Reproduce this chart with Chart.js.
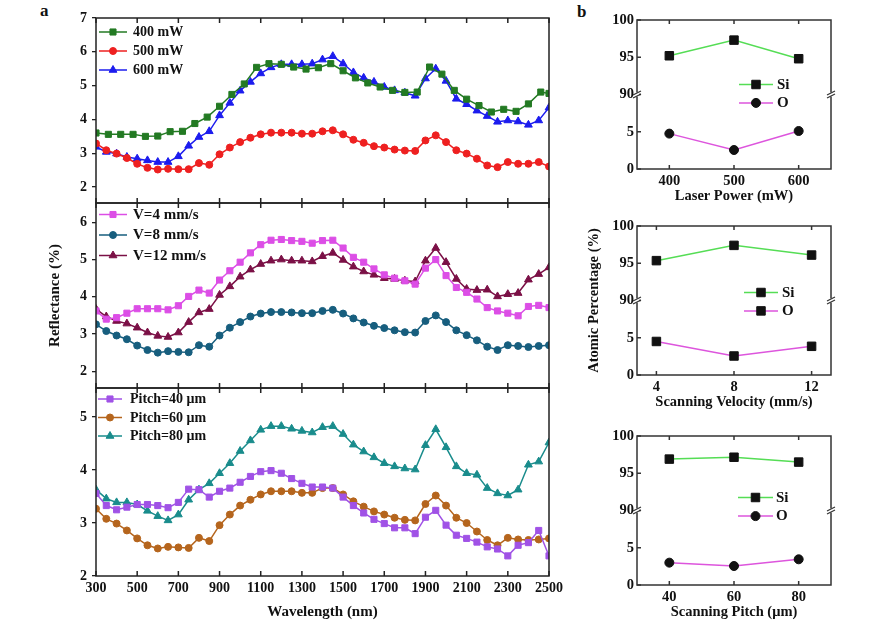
<!DOCTYPE html>
<html><head><meta charset="utf-8">
<script src="https://cdn.jsdelivr.net/npm/chart.js@4/dist/chart.umd.min.js"></script>
<style>
html,body{margin:0;padding:0;background:#fff;width:876px;height:634px;overflow:hidden;position:relative;}
canvas{position:absolute;}
.lbl{position:absolute;font:bold 17px "Liberation Serif",serif;color:#111;line-height:20px;}
</style></head><body>
<div class="lbl" style="left:40px;top:1px">a</div>
<div class="lbl" style="left:577px;top:2px">b</div>
<canvas id="a1" width="580" height="219" style="left:0;top:0"></canvas>
<canvas id="a2" width="580" height="217" style="left:0;top:187px"></canvas>
<canvas id="a3" width="580" height="262" style="left:0;top:372px"></canvas>
<canvas id="b1" width="316" height="210" style="left:560px;top:0"></canvas>
<canvas id="b2" width="316" height="210" style="left:560px;top:206px"></canvas>
<canvas id="b3" width="316" height="210" style="left:560px;top:416px"></canvas>
<script>
// ---------------- data ----------------
const wl50 = [300,350,400,450,500,550,600,650,700,750,800,850,900,950,1000,1050,1100,1150,1200,1250,1300,1350,1400,1450,1500,1550,1600,1650,1700,1750,1800,1850,1900,1950,2000,2050,2100,2150,2200,2250,2300,2350,2400,2450,2500];
const wl60 = [300,360,420,480,540,600,660,720,780,840,900,960,1020,1080,1140,1200,1260,1320,1380,1440,1500,1560,1620,1680,1740,1800,1860,1920,1980,2040,2100,2160,2220,2280,2340,2400,2460,2500];

const p400 = [3.60,3.56,3.56,3.56,3.50,3.51,3.64,3.65,3.88,4.07,4.39,4.74,5.05,5.54,5.65,5.63,5.55,5.49,5.53,5.65,5.44,5.23,5.08,4.96,4.86,4.80,4.81,5.55,5.34,4.86,4.60,4.41,4.22,4.30,4.24,4.46,4.81,4.77];
const p500 = [3.29,3.09,2.99,2.86,2.69,2.57,2.52,2.54,2.53,2.53,2.71,2.66,2.97,3.17,3.33,3.46,3.56,3.61,3.61,3.61,3.58,3.58,3.65,3.68,3.56,3.40,3.31,3.21,3.17,3.11,3.08,3.07,3.38,3.53,3.33,3.09,2.99,2.84,2.64,2.59,2.74,2.69,2.69,2.74,2.61];
const p600 = [3.19,3.04,2.99,2.89,2.84,2.79,2.74,2.74,2.91,3.22,3.48,3.65,4.12,4.49,4.85,5.11,5.36,5.54,5.63,5.63,5.63,5.65,5.77,5.87,5.65,5.39,5.23,5.11,4.96,4.86,4.79,4.70,5.21,5.50,5.14,4.61,4.45,4.26,4.10,3.93,3.97,3.94,3.84,3.97,4.35];

const v4 = [3.62,3.40,3.44,3.56,3.68,3.68,3.68,3.65,3.76,4.01,4.18,4.10,4.45,4.70,4.93,5.18,5.40,5.52,5.54,5.51,5.49,5.44,5.51,5.52,5.31,5.06,4.93,4.75,4.59,4.50,4.43,4.34,4.77,5.00,4.57,4.25,4.12,3.94,3.71,3.62,3.56,3.49,3.74,3.77,3.71];
const v8 = [3.26,3.08,2.96,2.86,2.69,2.57,2.50,2.54,2.52,2.51,2.70,2.66,2.96,3.17,3.32,3.47,3.55,3.59,3.59,3.58,3.56,3.56,3.62,3.65,3.55,3.42,3.31,3.22,3.16,3.10,3.05,3.04,3.35,3.50,3.32,3.10,2.97,2.83,2.66,2.57,2.70,2.68,2.65,2.68,2.70];
const v12 = [3.67,3.47,3.35,3.28,3.17,3.04,2.95,2.92,3.04,3.32,3.58,3.67,4.05,4.28,4.54,4.73,4.88,4.97,5.00,4.97,4.97,4.95,5.09,5.18,4.99,4.81,4.68,4.59,4.50,4.48,4.43,4.41,4.97,5.31,4.93,4.48,4.21,4.18,4.19,4.01,4.07,4.10,4.46,4.61,4.79];

const pitch40 = [3.56,3.33,3.25,3.30,3.35,3.35,3.33,3.29,3.39,3.64,3.63,3.49,3.60,3.66,3.77,3.88,3.97,3.99,3.94,3.84,3.75,3.68,3.68,3.66,3.49,3.33,3.19,3.07,2.99,2.91,2.91,2.80,3.11,3.24,2.96,2.77,2.71,2.64,2.55,2.51,2.38,2.58,2.63,2.86,2.38];
const pitch60 = [3.27,3.08,2.99,2.86,2.71,2.58,2.52,2.55,2.54,2.53,2.72,2.66,2.96,3.16,3.33,3.44,3.54,3.60,3.60,3.60,3.57,3.57,3.66,3.66,3.54,3.41,3.31,3.22,3.16,3.10,3.06,3.05,3.36,3.52,3.33,3.10,3.00,2.84,2.68,2.58,2.72,2.69,2.68,2.69,2.71];
const pitch80 = [3.63,3.46,3.39,3.39,3.35,3.23,3.13,3.05,3.16,3.44,3.63,3.75,3.94,4.13,4.36,4.56,4.76,4.83,4.83,4.78,4.74,4.71,4.81,4.83,4.68,4.48,4.35,4.24,4.13,4.07,4.03,4.01,4.47,4.77,4.43,4.07,3.94,3.91,3.66,3.56,3.52,3.63,4.10,4.16,4.52];

const wlTicks = [300,500,700,900,1100,1300,1500,1700,1900,2100,2300,2500];
const yTicksA1 = [2,3,4,5,6,7];
const yTicksA2 = [2,3,4,5,6];
const yTicksA3 = [2,3,4,5];

const laserPower = [400,500,600];
const siLaser = [95.2,97.3,94.8];
const oLaser = [4.75,2.55,5.1];
const scanVel = [4,8,12];
const siVel = [95.35,97.4,96.1];
const oVel = [4.5,2.55,3.85];
const scanPitch = [40,60,80];
const siPitch = [96.9,97.15,96.5];
const oPitch = [3.0,2.55,3.45];
const bYTicks = [0,5,90,95,100];

// ---------------- helpers ----------------
const FONT = "'Liberation Serif','Times New Roman',serif";
const INK = '#111';

// linear scale with a broken range (10..90 removed)
const BREAK_LO = 10, BREAK_HI = 90;
class BrokenScale extends Chart.LinearScale {
  getPixelForValue(value) {
    if (value === null || value === undefined) return NaN;
    const v = value >= BREAK_HI ? value - (BREAK_HI - BREAK_LO) : value;
    return super.getPixelForValue(v);
  }
}
BrokenScale.id = 'broken';
BrokenScale.defaults = {};
Chart.register(BrokenScale);

function drawMarker(ctx, style, x, y, r, color) {
  ctx.fillStyle = color; ctx.strokeStyle = color; ctx.lineWidth = 1;
  ctx.beginPath();
  if (style === 'rect') {
    const s = r * Math.SQRT1_2;
    ctx.rect(x - s, y - s, 2 * s, 2 * s);
  } else if (style === 'triangle') {
    for (let k = 0; k < 3; k++) {
      const ang = k * 2 * Math.PI / 3;
      const px = x + Math.sin(ang) * r, py = y - Math.cos(ang) * r;
      if (k === 0) ctx.moveTo(px, py); else ctx.lineTo(px, py);
    }
    ctx.closePath();
  } else {
    ctx.arc(x, y, r, 0, Math.PI * 2);
  }
  ctx.fill(); ctx.stroke();
}

const framePlugin = {
  id: 'frame',
  afterDraw(chart, args, o) {
    const {ctx, chartArea: a, scales} = chart;
    ctx.save();
    ctx.strokeStyle = o.color || '#222';
    ctx.lineWidth = o.width || 1.5;
    const t = o.tick || 5;
    ctx.beginPath();
    (o.xTicks || []).forEach(v => {
      const px = scales.x.getPixelForValue(v);
      ctx.moveTo(px, a.top); ctx.lineTo(px, a.top + t);
      ctx.moveTo(px, a.bottom); ctx.lineTo(px, a.bottom - t);
    });
    (o.yTicks || []).forEach(v => {
      const py = scales.y.getPixelForValue(v);
      ctx.moveTo(a.left, py); ctx.lineTo(a.left + t, py);
    });
    ctx.stroke();
    ctx.strokeRect(a.left, a.top, a.right - a.left, a.bottom - a.top);
    if (o.breakAt !== undefined && o.breakAt !== null) {
      const py = scales.y.getPixelForValue(o.breakAt);
      [a.left, a.right].forEach(x => {
        ctx.fillStyle = '#fff';
        ctx.fillRect(x - 2, py - 2, 4, 4);
        ctx.lineWidth = 1.2;
        ctx.beginPath();
        ctx.moveTo(x - 4, py + 0.5); ctx.lineTo(x + 4, py - 3.5);
        ctx.moveTo(x - 4, py + 3.5); ctx.lineTo(x + 4, py - 0.5);
        ctx.stroke();
      });
    }
    ctx.restore();
  }
};

const legendPlugin = {
  id: 'inLegend',
  afterDraw(chart, args, o) {
    if (!o || o.x0 === undefined) return;
    const {ctx, chartArea: a} = chart;
    ctx.save();
    chart.data.datasets.forEach((d, i) => {
      const y = a.top + o.y0 + i * o.dy;
      const x0 = a.left + o.x0, x1 = a.left + o.x1;
      ctx.strokeStyle = d.borderColor; ctx.lineWidth = d.borderWidth;
      ctx.beginPath(); ctx.moveTo(x0, y); ctx.lineTo(x1, y); ctx.stroke();
      drawMarker(ctx, d.pointStyle, (x0 + x1) / 2, y, d.pointRadius, d.pointBackgroundColor);
      ctx.fillStyle = INK;
      ctx.font = 'bold ' + o.size + 'px ' + FONT;
      ctx.textBaseline = 'middle'; ctx.textAlign = 'left';
      ctx.fillText(d.label, a.left + o.tx, y + 0.5);
    });
    ctx.restore();
  }
};

function pts(xs, ys) { return ys.map((y, i) => ({x: xs[i], y: y})); }
function lineSet(label, xs, ys, color, style, r) {
  return {label, data: pts(xs, ys), borderColor: color, backgroundColor: color,
    pointBackgroundColor: color, pointBorderColor: color, pointStyle: style,
    pointRadius: r, pointBorderWidth: 1, borderWidth: 1.5, tension: 0, fill: false};
}
function font(size) { return {family: FONT, size: size, weight: 'bold'}; }

function leftChart(id, datasets, yMin, yMax, yTicks, o) {
  return new Chart(document.getElementById(id), {
    type: 'line',
    data: {datasets},
    options: {
      responsive: false, animation: false, devicePixelRatio: 1, events: [],
      layout: {padding: {left: 0, right: 31, top: o.pt, bottom: o.pb}},
      plugins: {
        legend: {display: false}, tooltip: {enabled: false},
        frame: {xTicks: wlTicks, tick: 5, width: 1.5, color: '#222'},
        inLegend: o.legend
      },
      scales: {
        x: {
          type: 'linear', min: 300, max: 2500, display: !!o.showX,
          afterBuildTicks: s => { s.ticks = wlTicks.map(v => ({value: v})); },
          ticks: {font: font(14), color: INK, padding: 4, maxRotation: 0, autoSkip: false, callback: v => String(v)},
          grid: {display: false, drawTicks: false}, border: {display: false},
          title: {display: !!o.showX, text: 'Wavelength (nm)', font: font(15), color: INK, padding: {top: 0, bottom: 0}},
          afterFit: s => { s.height = o.xH || 0; }
        },
        y: {
          type: 'linear', min: yMin, max: yMax,
          afterBuildTicks: s => { s.ticks = yTicks.map(v => ({value: v})); },
          ticks: {font: font(14), color: INK, padding: 5, autoSkip: false, callback: v => String(v)},
          grid: {display: true, drawOnChartArea: false, drawTicks: true, tickLength: 4, color: '#222', lineWidth: 1.3},
          border: {display: false},
          title: {display: !!o.yTitle, text: 'Reflectance (%)', font: font(15), color: INK, padding: {top: 46, bottom: 0}},
          afterFit: s => { s.width = 96; }
        }
      }
    },
    plugins: [framePlugin, legendPlugin]
  });
}

leftChart('a1', [
  lineSet('400 mW', wl60, p400, '#237a23', 'rect', 4.3),
  lineSet('500 mW', wl50, p500, '#ee2020', 'circle', 3.5),
  lineSet('600 mW', wl50, p600, '#1c1cee', 'triangle', 4.5)
], 1.53, 7, yTicksA1, {pt: 18, pb: 16, legend: {x0: 3, x1: 31, tx: 37, y0: 14, dy: 19, size: 14}});

leftChart('a2', [
  lineSet('V=4 mm/s', wl50, v4, '#dc4ee6', 'rect', 4.3),
  lineSet('V=8 mm/s', wl50, v8, '#175e7e', 'circle', 3.5),
  lineSet('V=12 mm/s', wl50, v12, '#7b1046', 'triangle', 4.5)
], 1.55, 6.52, yTicksA2, {pt: 16, pb: 16, yTitle: true, legend: {x0: 3, x1: 31, tx: 37, y0: 11.5, dy: 20.5, size: 15}});

leftChart('a3', [
  lineSet('Pitch=40 μm', wl50, pitch40, '#a052e6', 'rect', 4.3),
  lineSet('Pitch=60 μm', wl50, pitch60, '#b5651d', 'circle', 3.5),
  lineSet('Pitch=80 μm', wl50, pitch80, '#198c8c', 'triangle', 4.5)
], 2, 5.55, yTicksA3, {pt: 16, pb: 13, showX: true, xH: 45, legend: {x0: 2, x1: 26, tx: 34, y0: 11, dy: 18.5, size: 14}});

function rightChart(id, xs, si, ox, xMin, xMax, xTitle, oStyle, yTitle, legend) {
  const datasets = [
    {label: 'Si', data: pts(xs, si), borderColor: '#55dd55', backgroundColor: '#55dd55',
     pointBackgroundColor: INK, pointBorderColor: INK, pointStyle: 'rect', pointRadius: 6,
     pointBorderWidth: 1, borderWidth: 1.5, tension: 0, fill: false},
    {label: 'O', data: pts(xs, ox), borderColor: '#dd55dd', backgroundColor: '#dd55dd',
     pointBackgroundColor: INK, pointBorderColor: INK, pointStyle: oStyle, pointRadius: oStyle === 'rect' ? 6 : 4.5,
     pointBorderWidth: 1, borderWidth: 1.5, tension: 0, fill: false}
  ];
  return new Chart(document.getElementById(id), {
    type: 'line',
    data: {datasets},
    options: {
      responsive: false, animation: false, devicePixelRatio: 1, events: [],
      layout: {padding: {left: 0, right: 45, top: 20, bottom: 5}},
      plugins: {
        legend: {display: false}, tooltip: {enabled: false},
        frame: {xTicks: xs, yTicks: bYTicks, tick: 4, width: 1.5, color: '#333', breakAt: BREAK_HI},
        inLegend: legend
      },
      scales: {
        x: {
          type: 'linear', min: xMin, max: xMax,
          afterBuildTicks: s => { s.ticks = xs.map(v => ({value: v})); },
          ticks: {font: font(14.5), color: INK, padding: 4, maxRotation: 0, autoSkip: false, callback: v => String(v)},
          grid: {display: false, drawTicks: false}, border: {display: false},
          title: {display: true, text: xTitle, font: font(14.5), color: INK, padding: {top: 0, bottom: 0}},
          afterFit: s => { s.height = 36; }
        },
        y: {
          type: 'broken', min: 0, max: 20,
          afterBuildTicks: s => { s.ticks = bYTicks.map(v => ({value: v})); },
          ticks: {font: font(14.5), color: INK, padding: 3, autoSkip: false, callback: v => String(v)},
          grid: {display: false, drawTicks: false}, border: {display: false},
          title: {display: !!yTitle, text: 'Atomic Percentage (%)', font: font(14.5), color: INK, padding: {top: 26, bottom: 0}},
          afterFit: s => { s.width = 77; }
        }
      }
    },
    plugins: [framePlugin, legendPlugin]
  });
}

rightChart('b1', laserPower, siLaser, oLaser, 350, 650, 'Laser Power (mW)', 'circle', false,
  {x0: 102, x1: 136, tx: 140, y0: 64.5, dy: 18.4, size: 15});
rightChart('b2', scanVel, siVel, oVel, 3, 13, 'Scanning Velocity (mm/s)', 'rect', true,
  {x0: 107, x1: 141, tx: 145, y0: 66.5, dy: 18.4, size: 15});
rightChart('b3', scanPitch, siPitch, oPitch, 30, 90, 'Scanning Pitch (μm)', 'circle', false,
  {x0: 101, x1: 136, tx: 139, y0: 61.5, dy: 18.6, size: 15});
</script>
</body></html>
